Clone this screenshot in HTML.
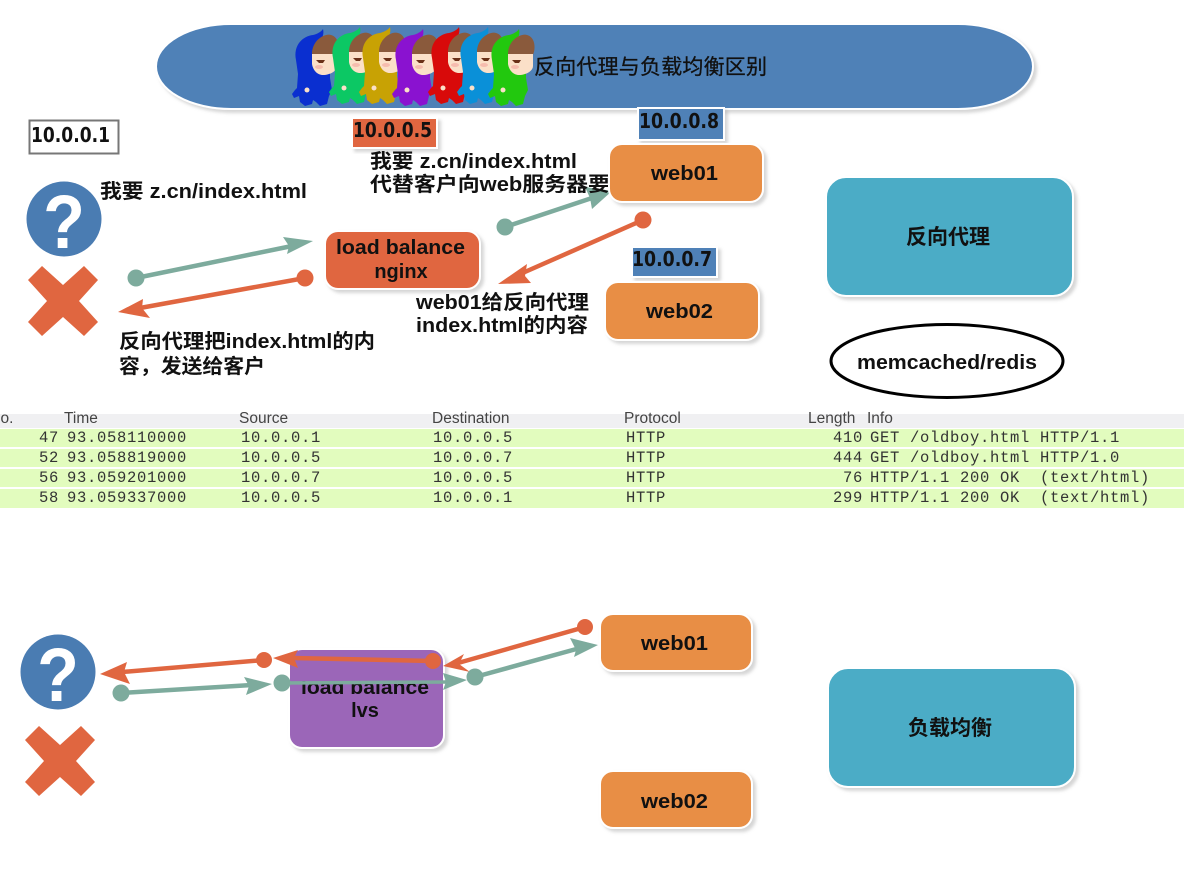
<!DOCTYPE html>
<html lang="zh">
<head>
<meta charset="utf-8">
<style>
html,body{margin:0;padding:0;background:#fff;width:1184px;height:881px;overflow:hidden}
svg{display:block}
text{font-family:"Liberation Sans","Noto Sans CJK SC",sans-serif;fill:#111}
.b{font-weight:bold;font-size:20px}
.ip{font-family:"DejaVu Sans",sans-serif;font-weight:bold;font-size:20px}
.m{font-family:"Liberation Mono",monospace;font-size:15.5px;fill:#333;letter-spacing:.7px;white-space:pre}
.h{font-size:15.5px;fill:#444}
.c{text-anchor:middle}
</style>
</head>
<body>
<svg width="1184" height="881" viewBox="0 0 1184 881" xmlns="http://www.w3.org/2000/svg">
<defs>
<filter id="s" x="-10%" y="-10%" width="125%" height="130%"><feDropShadow dx="3" dy="3" stdDeviation="1.5" flood-color="#999" flood-opacity=".4"/></filter>
<g id="ch">
  <path d="M1 30C-2 15 8 6 18 5C22 4 26 2 28 -1C29 3 28 7 26 9L35 22L35 48L37 60L34 66L32 74L25 76L21 72L18 70L17 74L10 76L5 72L4 66L-1 68L-3 64L0 60L2 58L3 44Z"/>
  <path d="M17 24C17 10 30 3 36 5C44 7 45 18 42 25Z" fill="#8a5a3c"/>
  <path d="M17 24L42 24L42 36C42 41 35 45 28 45C22 45 18 40 17 34Z" fill="#fbe0c8"/>
  <path d="M21 30L30 30L28 33L24 33Z" fill="#6a3018"/>
  <ellipse cx="24" cy="37" rx="4" ry="2" fill="#f6bcae"/>
  <circle cx="12" cy="60" r="2.5" fill="#fbe0c8"/>
</g>
<g id="q">
  <circle cx="0" cy="0" r="37.5" fill="#4a7cb2"/>
  <text transform="translate(0 29) scale(.9 1)" class="c" style="font-size:76px;font-weight:bold;fill:#fff">?</text>
</g>
<path id="x" d="M-21 -35L0 -16L21 -35L35 -21L16 0L35 21L21 35L0 16L-21 35L-35 21L-16 0L-35 -21Z" fill="#e06640"/>
</defs>

<!-- title pill -->
<rect x="156" y="24" width="877" height="85" rx="75" ry="42.5" fill="#4f81b7" filter="url(#s)" stroke="#fff" stroke-width="2"/>
<use href="#ch" x="295" y="30" fill="#0a2fd0"/>
<use href="#ch" x="332" y="28" fill="#0cc864"/>
<use href="#ch" x="362" y="28" fill="#c8a204"/>
<use href="#ch" x="395" y="30" fill="#8a12d0"/>
<use href="#ch" x="431" y="28" fill="#d80a0a"/>
<use href="#ch" x="460" y="28" fill="#0a90d8"/>
<use href="#ch" x="491" y="30" fill="#22c80e"/>
<text x="534" y="74" textLength="233" style="font-size:21px;stroke:#111;stroke-width:.3">反向代理与负载均衡区别</text>

<!-- top left -->
<rect x="29.5" y="120.5" width="89" height="33" fill="#fff" stroke="#777" stroke-width="2"/>
<text x="31" y="142" class="ip" textLength="79" lengthAdjust="spacingAndGlyphs">10.0.0.1</text>
<use href="#q" transform="translate(64 219)"/>
<use href="#x" transform="translate(63 301)"/>
<text x="100" y="198" class="b" textLength="207" lengthAdjust="spacingAndGlyphs">我要 z.cn/index.html</text>

<!-- arrows top left -->
<g fill="none" stroke-width="4.5">
  <path d="M136 278L292 246" stroke="#7dab9d"/>
  <path d="M305 278L140 308" stroke="#e06640"/>
  <path d="M505 227L592 198" stroke="#7dab9d"/>
  <path d="M643 220L518 275" stroke="#e06640"/>
</g>
<circle cx="136" cy="278" r="8.5" fill="#7dab9d"/>
<path d="M313 241L283 237L289 246L287 254Z" fill="#7dab9d"/>
<circle cx="305" cy="278" r="8.5" fill="#e06640"/>
<path d="M118 312L143 299L142 308L150 318Z" fill="#e06640"/>
<circle cx="505" cy="227" r="8.5" fill="#7dab9d"/>
<path d="M612 191L585 187L590 198L592 209Z" fill="#7dab9d"/>
<circle cx="643" cy="220" r="8.5" fill="#e06640"/>
<path d="M498 284L527 264L525 276L531 283Z" fill="#e06640"/>

<rect x="325" y="231" width="155" height="58" rx="13" fill="#e06640" stroke="#fff" stroke-width="2" filter="url(#s)"/>
<text x="336" y="254" class="b" textLength="129" lengthAdjust="spacingAndGlyphs">load balance</text>
<text x="401" y="278" class="b c">nginx</text>
<text x="119" y="348" class="b" textLength="256" lengthAdjust="spacingAndGlyphs">反向代理把index.html的内</text>
<text x="119" y="373" class="b" textLength="146" lengthAdjust="spacingAndGlyphs">容，发送给客户</text>

<rect x="352" y="118" width="85" height="30" fill="#e06640" stroke="#fff" stroke-width="2" filter="url(#s)"/>
<text x="353" y="137" class="ip" textLength="79" lengthAdjust="spacingAndGlyphs">10.0.0.5</text>
<text x="370" y="168" class="b" textLength="207" lengthAdjust="spacingAndGlyphs">我要 z.cn/index.html</text>
<text x="370" y="191" class="b" textLength="240" lengthAdjust="spacingAndGlyphs">代替客户向web服务器要</text>

<rect x="638" y="108" width="86" height="32" fill="#4f81b7" stroke="#fff" stroke-width="2" filter="url(#s)"/>
<text x="639" y="128" class="ip" textLength="80" lengthAdjust="spacingAndGlyphs">10.0.0.8</text>
<rect x="609" y="144" width="154" height="58" rx="13" fill="#e88e45" stroke="#fff" stroke-width="2" filter="url(#s)"/>
<text x="651" y="180" class="b" textLength="67" lengthAdjust="spacingAndGlyphs">web01</text>

<rect x="632" y="247" width="85" height="30" fill="#4f81b7" stroke="#fff" stroke-width="2" filter="url(#s)"/>
<text x="632" y="266" class="ip" textLength="80" lengthAdjust="spacingAndGlyphs">10.0.0.7</text>
<rect x="605" y="282" width="154" height="58" rx="13" fill="#e88e45" stroke="#fff" stroke-width="2" filter="url(#s)"/>
<text x="646" y="318" class="b" textLength="67" lengthAdjust="spacingAndGlyphs">web02</text>
<text x="416" y="309" class="b" textLength="173" lengthAdjust="spacingAndGlyphs">web01给反向代理</text>
<text x="416" y="332" class="b" textLength="172" lengthAdjust="spacingAndGlyphs">index.html的内容</text>

<rect x="826" y="177" width="247" height="119" rx="20" fill="#4bacc6" stroke="#fff" stroke-width="2" filter="url(#s)"/>
<text x="948" y="244" class="b c" style="font-size:21px">反向代理</text>
<ellipse cx="947" cy="361" rx="116" ry="36.5" fill="#fff" stroke="#000" stroke-width="3"/>
<text x="857" y="369" class="b" textLength="180" lengthAdjust="spacingAndGlyphs">memcached/redis</text>

<!-- packet table -->
<rect x="0" y="414" width="1184" height="14" fill="#f0f0f2"/>
<rect x="0" y="429" width="1184" height="18" fill="#e2fcbe"/>
<rect x="0" y="449" width="1184" height="18" fill="#e2fcbe"/>
<rect x="0" y="469" width="1184" height="18" fill="#e2fcbe"/>
<rect x="0" y="489" width="1184" height="19" fill="#e2fcbe"/>
<text x="-3" y="423" class="h">lo.</text>
<text x="64" y="423" class="h">Time</text>
<text x="239" y="423" class="h">Source</text>
<text x="432" y="423" class="h">Destination</text>
<text x="624" y="423" class="h">Protocol</text>
<text x="808" y="423" class="h">Length</text>
<text x="867" y="423" class="h">Info</text>
<text x="39" y="442" class="m">47</text><text x="67" y="442" class="m">93.058110000</text><text x="241" y="442" class="m">10.0.0.1</text><text x="433" y="442" class="m">10.0.0.5</text><text x="626" y="442" class="m">HTTP</text><text x="833" y="442" class="m">410</text><text x="870" y="442" class="m">GET /oldboy.html HTTP/1.1</text>
<text x="39" y="462" class="m">52</text><text x="67" y="462" class="m">93.058819000</text><text x="241" y="462" class="m">10.0.0.5</text><text x="433" y="462" class="m">10.0.0.7</text><text x="626" y="462" class="m">HTTP</text><text x="833" y="462" class="m">444</text><text x="870" y="462" class="m">GET /oldboy.html HTTP/1.0</text>
<text x="39" y="482" class="m">56</text><text x="67" y="482" class="m">93.059201000</text><text x="241" y="482" class="m">10.0.0.7</text><text x="433" y="482" class="m">10.0.0.5</text><text x="626" y="482" class="m">HTTP</text><text x="843" y="482" class="m">76</text><text x="870" y="482" class="m">HTTP/1.1 200 OK  (text/html)</text>
<text x="39" y="502" class="m">58</text><text x="67" y="502" class="m">93.059337000</text><text x="241" y="502" class="m">10.0.0.5</text><text x="433" y="502" class="m">10.0.0.1</text><text x="626" y="502" class="m">HTTP</text><text x="833" y="502" class="m">299</text><text x="870" y="502" class="m">HTTP/1.1 200 OK  (text/html)</text>

<!-- bottom diagram -->
<use href="#q" transform="translate(58 672)"/>
<use href="#x" transform="translate(60 761)"/>
<rect x="289" y="649" width="155" height="99" rx="13" fill="#9b66b8" filter="url(#s)" stroke="#fff" stroke-width="2"/>
<text x="301" y="694" class="b" textLength="128" lengthAdjust="spacingAndGlyphs">load balance</text>
<text x="365" y="717" class="b c">lvs</text>
<rect x="296" y="670" width="142" height="11" fill="#9b66b8"/>

<g fill="none" stroke-width="4.5">
  <path d="M264 660L122 672" stroke="#e06640"/>
  <path d="M433 661L292 658" stroke="#e06640"/>
  <path d="M585 627L458 663" stroke="#e06640"/>
  <path d="M121 693L252 685" stroke="#7dab9d"/>
  <path d="M282 683L448 682" stroke="#7dab9d" stroke-width="3.5"/>
  <path d="M475 677L580 648" stroke="#7dab9d"/>
</g>
<circle cx="264" cy="660" r="8" fill="#e06640"/>
<path d="M100 674L127 662L124 672L130 684Z" fill="#e06640"/>
<circle cx="433" cy="661" r="8" fill="#e06640"/>
<path d="M273 658L298 650L294 658L298 668Z" fill="#e06640"/>
<circle cx="585" cy="627" r="8" fill="#e06640"/>
<path d="M443 666L464 654L459 664L470 672Z" fill="#e06640"/>
<circle cx="121" cy="693" r="8.5" fill="#7dab9d"/>
<path d="M272 684L244 677L249 686L246 695Z" fill="#7dab9d"/>
<circle cx="282" cy="683" r="8.5" fill="#7dab9d"/>
<path d="M467 680L443 673L446 682L443 690Z" fill="#7dab9d"/>
<circle cx="475" cy="677" r="8.5" fill="#7dab9d"/>
<path d="M598 645L570 638L576 650L574 657Z" fill="#7dab9d"/>

<rect x="600" y="614" width="152" height="57" rx="13" fill="#e88e45" stroke="#fff" stroke-width="2" filter="url(#s)"/>
<text x="641" y="650" class="b" textLength="67" lengthAdjust="spacingAndGlyphs">web01</text>
<rect x="600" y="771" width="152" height="57" rx="13" fill="#e88e45" stroke="#fff" stroke-width="2" filter="url(#s)"/>
<text x="641" y="808" class="b" textLength="67" lengthAdjust="spacingAndGlyphs">web02</text>
<rect x="828" y="668" width="247" height="119" rx="20" fill="#4bacc6" stroke="#fff" stroke-width="2" filter="url(#s)"/>
<text x="950" y="735" class="b c" style="font-size:21px">负载均衡</text>
</svg>
</body>
</html>
